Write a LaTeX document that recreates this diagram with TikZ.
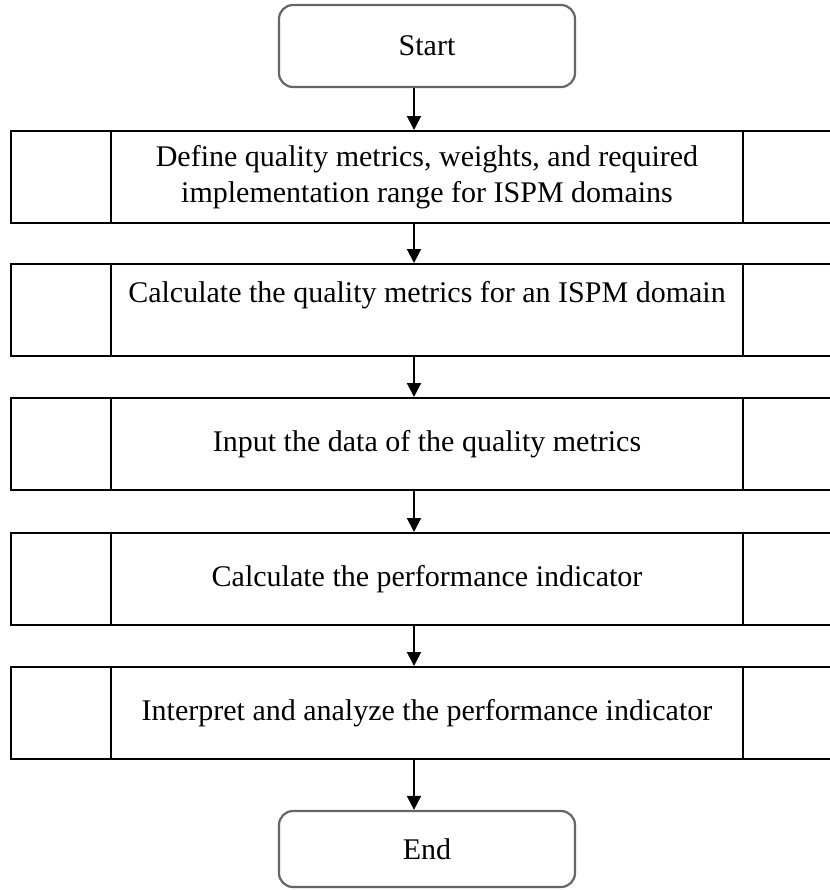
\documentclass[tikz,border=0pt]{standalone}
\usepackage{fontspec}
\setmainfont{Liberation Serif}
\usetikzlibrary{arrows.meta}

\begin{document}
\begin{tikzpicture}[x=0.5pt,y=-0.5pt,
        every node/.style={font=\fontsize{15}{18}\selectfont},
        term/.style={draw=black!60,line width=1.1pt,rounded corners=7pt,minimum width=148pt,minimum height=41pt},
        proc/.style={draw,line width=1pt,minimum width=416pt,minimum height=46pt,align=center},
        arr/.style={-{Triangle[width=7pt,length=7pt]},line width=1pt}]
    \fill[white] (0,0) rectangle (830,890);
    \useasboundingbox (0,0) rectangle (830,890);

    \node[term] (start) at (427, 46) {Start};
    \node[proc] (p1) at (427, 177) {Define quality metrics, weights, and required\\implementation range for ISPM domains};
    \node[proc] (p2) at (427, 310) {Calculate the quality metrics for an ISPM domain\\\mbox{}};
    \node[proc] (p3) at (427, 444) {Input the data of the quality metrics};
    \node[proc] (p4) at (427, 579) {Calculate the performance indicator};
    \node[proc] (p5) at (427, 713) {Interpret and analyze the performance indicator};
    \node[term,minimum height=38pt] (end) at (427, 849) {End};

    \foreach \n in {p1,p2,p3,p4,p5} {
        \draw[line width=1pt] ([xshift=50.5pt]\n.north west) -- ([xshift=50.5pt]\n.south west);
        \draw[line width=1pt] ([xshift=-50.5pt]\n.north east) -- ([xshift=-50.5pt]\n.south east);
    }

    \coordinate (ax) at (414, 0);
    \draw[arr] (start.south -| ax) -- (p1.north -| ax);
    \draw[arr] (p1.south -| ax) -- (p2.north -| ax);
    \draw[arr] (p2.south -| ax) -- (p3.north -| ax);
    \draw[arr] (p3.south -| ax) -- (p4.north -| ax);
    \draw[arr] (p4.south -| ax) -- (p5.north -| ax);
    \draw[arr] (p5.south -| ax) -- (end.north -| ax);
\end{tikzpicture}
\end{document}
